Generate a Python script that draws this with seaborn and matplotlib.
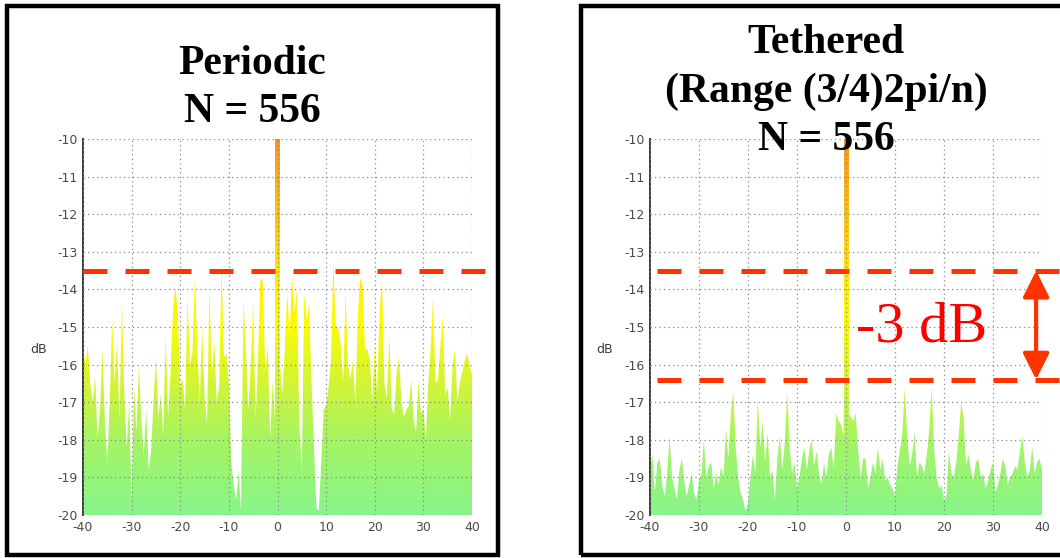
import numpy as np
import matplotlib
matplotlib.use("Agg")
import matplotlib.pyplot as plt
import seaborn as sns
from matplotlib.colors import LinearSegmentedColormap
from matplotlib.patches import Rectangle

# ── Data ──────────────────────────────────────────────────────────────────
X_STEP = 0.5
x_pos = np.arange(-40, 40 + X_STEP / 2, X_STEP)  # spatial frequency axis

periodic_db = [
    -15.6, -16.0, -15.5, -16.5, -17.0, -16.3, -18.0, -17.2, -15.6, -17.5,
    -18.6, -17.0, -14.8, -16.5, -15.4, -17.5, -14.3, -16.8, -18.2, -17.0,
    -19.6, -16.6, -17.8, -16.0, -17.5, -18.4, -17.2, -18.8, -18.3, -17.0,
    -15.8, -17.4, -16.8, -17.9, -15.2, -17.4, -16.2, -14.6, -13.9, -14.7,
    -16.6, -16.4, -17.2, -14.2, -16.0, -15.7, -13.7, -15.5, -17.0, -15.0,
    -16.8, -17.6, -14.0, -16.2, -15.4, -17.0, -16.6, -13.4, -15.8, -15.7,
    -16.5, -18.6, -19.2, -19.6, -18.8, -19.9, -14.3, -15.5, -17.2, -16.0,
    -14.3, -17.5, -15.8, -13.7, -13.8, -16.2, -15.5, -18.0, -16.4, -17.5,
    -10.0,
    -16.0, -16.8, -15.6, -14.1, -15.2, -13.7, -14.6, -14.0, -17.6, -18.8,
    -14.1, -14.8, -14.4, -16.5, -18.2, -19.8, -19.9, -18.6, -17.2, -17.1,
    -16.6, -15.9, -13.3, -15.0, -15.0, -15.5, -16.5, -14.1, -16.0, -16.4,
    -15.9, -17.0, -14.8, -13.7, -13.9, -15.6, -15.6, -15.9, -17.0, -15.5,
    -16.8, -14.5, -13.8, -16.5, -16.9, -15.2, -17.2, -17.3, -16.2, -15.8,
    -17.0, -17.4, -17.2, -17.1, -16.4, -17.5, -17.8, -16.4, -17.3, -17.2,
    -18.0, -16.5, -15.6, -14.2, -16.5, -16.4, -15.5, -14.7, -16.8, -16.6,
    -17.5, -16.0, -15.6, -17.0, -16.5, -16.2, -15.9, -15.7, -16.0, -16.3,
]

tethered_db = [
    -18.8, -18.4, -19.4, -18.6, -18.5, -19.2, -19.5, -18.9, -17.9, -19.0,
    -19.3, -19.6, -18.8, -18.5, -19.1, -19.5, -19.2, -18.9, -19.4, -19.6,
    -19.1, -18.9, -18.0, -19.0, -18.7, -18.6, -19.3, -18.9, -19.2, -18.7,
    -19.0, -17.7, -18.5, -17.3, -16.7, -18.2, -19.0, -19.4, -19.6, -19.9,
    -19.7, -19.0, -18.4, -18.9, -16.9, -18.2, -17.5, -18.6, -17.8, -19.0,
    -18.8, -19.6, -18.5, -17.9, -18.8, -18.1, -16.7, -18.2, -18.9, -18.6,
    -19.3, -19.0, -18.5, -18.2, -18.8, -18.3, -18.0, -18.7, -18.3, -18.9,
    -19.2, -18.6, -19.0, -18.4, -18.2, -18.8, -17.3, -17.5, -17.6, -17.9,
    -10.0,
    -17.3, -17.4, -17.5, -17.3, -18.3, -19.0, -18.5, -18.5, -19.3, -19.0,
    -18.6, -18.9, -18.2, -18.8, -18.5, -19.1, -19.0, -19.2, -19.3, -19.5,
    -18.7, -18.3, -17.8, -16.6, -17.9, -18.7, -18.4, -17.8, -19.0, -18.6,
    -18.7, -18.9, -18.4, -17.7, -16.6, -18.3, -19.0, -19.3, -19.2, -19.6,
    -19.5, -18.3, -18.9, -19.0, -18.6, -17.9, -17.0, -17.4, -18.7, -18.4,
    -18.8, -19.1, -18.6, -18.5, -19.0, -18.9, -19.3, -19.1, -18.8, -18.6,
    -19.4, -19.2, -18.9, -18.5, -18.7, -19.2, -19.0, -18.9, -18.7, -18.8,
    -18.3, -17.9, -18.6, -19.0, -18.8, -18.2, -18.9, -18.6, -18.5, -18.8,
]

x_ticks = [-40, -30, -20, -10, 0, 10, 20, 30, 40]
y_ticks = [-10, -11, -12, -13, -14, -15, -16, -17, -18, -19, -20]
Y_FLOOR, Y_CEIL = -20, -10

periodic_title = ["Periodic", "N = 556"]
tethered_title = ["Tethered", "(Range (3/4)2pi/n)", "N = 556"]

sidelobe_level = -13.5            # peak sidelobe, periodic array
tethered_levels = [-13.5, -16.4]  # before / after tethering
drop_label = "-3 dB"

# ── Style ─────────────────────────────────────────────────────────────────
sns.set_theme(style="white")
plt.rcParams["font.family"] = ["DejaVu Sans"]
plt.rcParams["axes.unicode_minus"] = False

RED = "#ff3300"
spectrum_cmap = LinearSegmentedColormap.from_list(
    "spectrum",
    [(0.00, "#88f58c"), (0.20, "#a6f462"), (0.36, "#d6f432"),
     (0.50, "#fbfb06"), (0.62, "#ffee00"), (0.80, "#ffc010"),
     (1.00, "#ff9418")],
)
GRADIENT = np.linspace(0, 1, 256).reshape(-1, 1)


def _gradient_clip(ax, clip_path, transform=None):
    img = ax.imshow(GRADIENT, extent=[-40, 40, Y_FLOOR, Y_CEIL],
                    origin="lower", aspect="auto", cmap=spectrum_cmap,
                    zorder=1, interpolation="bilinear")
    if transform is None:
        img.set_clip_path(clip_path)
    else:
        img.set_clip_path(clip_path, transform=transform)


def draw_spectrum(ax, values):
    y = np.asarray(values)
    # sidelobe floor: filled area coloured by level
    poly = ax.fill_between(x_pos, Y_FLOOR, y, facecolor="none",
                           edgecolor="none")
    _gradient_clip(ax, poly.get_paths()[0], ax.transData)
    # main lobe drawn as a narrow bar
    main = y > -13
    bars = ax.bar(x_pos[main], y[main] - Y_FLOOR, bottom=Y_FLOOR,
                  width=0.95, color="none", linewidth=0)
    for b in bars:
        _gradient_clip(ax, b)

    ax.set_xlim(-40, 40)
    ax.set_ylim(Y_FLOOR, Y_CEIL)
    ax.set_xticks(x_ticks)
    ax.set_yticks(y_ticks)
    ax.grid(True, color="#8a8a8a", linestyle=(0, (1, 2.6)), linewidth=0.9)
    ax.set_axisbelow(False)
    for side in ["top", "right", "bottom"]:
        ax.spines[side].set_visible(False)
    ax.spines["left"].set_color("#3a3a3a")
    ax.spines["left"].set_linewidth(1.4)
    ax.tick_params(axis="both", labelsize=9, colors="#4a4a4a",
                   length=0, pad=4)
    ax.text(-0.115, 0.44, "dB", transform=ax.transAxes, fontsize=9,
            color="#3a3a3a", ha="center", va="center")


def ref_line(ax, level, x_start, x_end):
    sns.lineplot(x=[x_start, x_end], y=[level, level], ax=ax, color=RED,
                 linewidth=3.6, linestyle=(0, (4.8, 3.6)),
                 solid_capstyle="butt", dash_capstyle="butt",
                 clip_on=False, zorder=5)


fig = plt.figure(figsize=(10.6, 5.58), dpi=100)
W, H = 1060, 558

ax_l = fig.add_axes([83 / W, 1 - 515 / H, 389 / W, 376 / H])
ax_r = fig.add_axes([650 / W, 1 - 515 / H, 392 / W, 376 / H])

draw_spectrum(ax_l, periodic_db)
draw_spectrum(ax_r, tethered_db)

# reference levels
ref_line(ax_l, sidelobe_level, -40, 42.7)
for lvl in tethered_levels:
    ref_line(ax_r, lvl, -38.6, 44)

ax_r.annotate("", xy=(38.8, tethered_levels[1]),
              xytext=(38.8, tethered_levels[0]),
              arrowprops=dict(arrowstyle="<|-|>", color=RED, lw=3,
                              mutation_scale=40, shrinkA=0, shrinkB=0),
              annotation_clip=False, zorder=6)
ax_r.text(15.5, -15.0, drop_label, color="#ff0000", fontsize=42,
          family="Liberation Serif", ha="center", va="center", zorder=6)

# titles
title_kw = dict(family="Liberation Serif", fontweight="bold", fontsize=30,
                ha="center", va="center", color="black")
for i, line in enumerate(periodic_title):
    fig.text(252 / W, 1 - (64 + 48.5 * i) / H, line, **title_kw)
for i, line in enumerate(tethered_title):
    fig.text(826 / W, 1 - (43 + 48.5 * i) / H, line, **title_kw)

# black panel frames
for x0, x1 in [(7, 498), (581, 1064)]:
    fig.add_artist(Rectangle((x0 / W, 3 / H), (x1 - x0) / W, (552 - 3) / H,
                             transform=fig.transFigure, fill=False,
                             edgecolor="black", linewidth=3.2))

fig.savefig("out.png", dpi=100)
